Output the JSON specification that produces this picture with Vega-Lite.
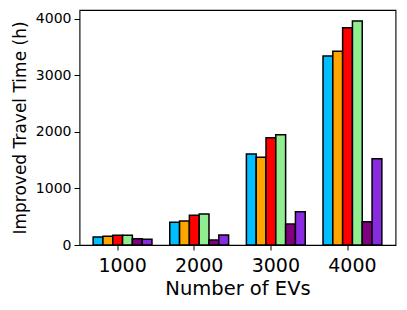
{
  "$schema": "https://vega.github.io/schema/vega-lite/v6.json",
  "width": 316,
  "height": 235,
  "autosize": "none",
  "padding": {"left": 79.5, "top": 10, "right": 11.5, "bottom": 65},
  "config": {
    "font": "DejaVu Sans",
    "view": {"stroke": "#000000", "strokeWidth": 1.1},
    "axis": {"labelColor": "#000000", "titleColor": "#000000", "tickColor": "#000000", "grid": false, "domain": false, "titleFontWeight": "normal"}
  },
  "data": {
    "values": [
      {"evs": "1000", "method": "M1", "value": 142},
      {"evs": "1000", "method": "M2", "value": 153},
      {"evs": "1000", "method": "M3", "value": 171},
      {"evs": "1000", "method": "M4", "value": 171},
      {"evs": "1000", "method": "M5", "value": 112},
      {"evs": "1000", "method": "M6", "value": 100},
      {"evs": "2000", "method": "M1", "value": 401},
      {"evs": "2000", "method": "M2", "value": 425},
      {"evs": "2000", "method": "M3", "value": 525},
      {"evs": "2000", "method": "M4", "value": 549},
      {"evs": "2000", "method": "M5", "value": 88},
      {"evs": "2000", "method": "M6", "value": 177},
      {"evs": "3000", "method": "M1", "value": 1611},
      {"evs": "3000", "method": "M2", "value": 1552},
      {"evs": "3000", "method": "M3", "value": 1900},
      {"evs": "3000", "method": "M4", "value": 1953},
      {"evs": "3000", "method": "M5", "value": 372},
      {"evs": "3000", "method": "M6", "value": 590},
      {"evs": "4000", "method": "M1", "value": 3345},
      {"evs": "4000", "method": "M2", "value": 3428},
      {"evs": "4000", "method": "M3", "value": 3847},
      {"evs": "4000", "method": "M4", "value": 3965},
      {"evs": "4000", "method": "M5", "value": 413},
      {"evs": "4000", "method": "M6", "value": 1528}
    ]
  },
  "mark": {"type": "bar", "stroke": "#000000", "strokeWidth": 1.5},
  "encoding": {
    "x": {
      "field": "evs",
      "type": "nominal",
      "sort": ["1000", "2000", "3000", "4000"],
      "scale": {"paddingInner": 0.232, "paddingOuter": 0.178},
      "axis": {
        "title": "Number of EVs",
        "labelAngle": 0,
        "labelFontSize": 19,
        "titleFontSize": 19.5,
        "tickSize": 5,
        "labelPadding": 6,
        "titlePadding": 4,
        "bandPosition": 0.4167
      }
    },
    "xOffset": {
      "field": "method",
      "type": "nominal",
      "sort": ["M1", "M2", "M3", "M4", "M5", "M6"],
      "scale": {"paddingInner": 0, "paddingOuter": 0}
    },
    "y": {
      "field": "value",
      "type": "quantitative",
      "scale": {"domain": [0, 4159], "nice": false, "zero": true},
      "axis": {
        "title": "Improved Travel Time (h)",
        "values": [0, 1000, 2000, 3000, 4000],
        "format": "d",
        "labelFontSize": 14,
        "titleFontSize": 17,
        "tickSize": 5.5,
        "labelPadding": 3,
        "titlePadding": 6
      }
    },
    "color": {
      "field": "method",
      "type": "nominal",
      "legend": null,
      "scale": {
        "domain": ["M1", "M2", "M3", "M4", "M5", "M6"],
        "range": ["#00BFFF", "#FFA500", "#FF0000", "#90EE90", "#800080", "#8A2BE2"]
      }
    }
  }
}
